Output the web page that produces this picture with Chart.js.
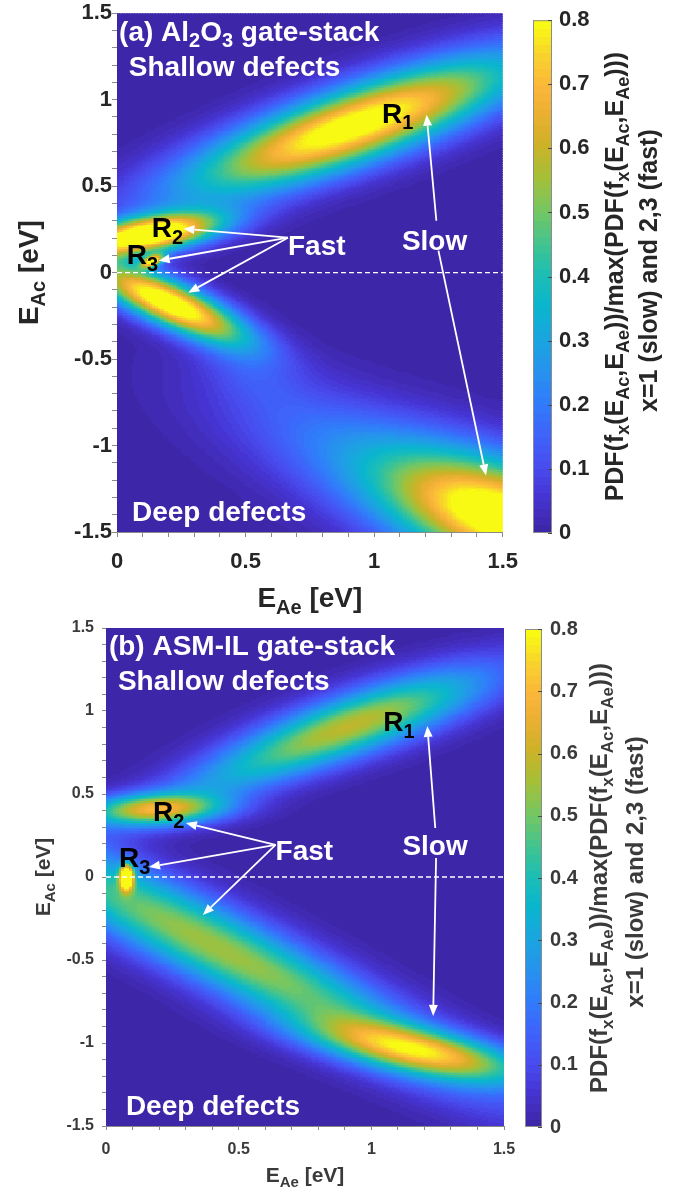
<!DOCTYPE html>
<html>
<head>
<meta charset="utf-8">
<script src="https://cdn.jsdelivr.net/npm/chart.js@4.4.1/dist/chart.umd.min.js"></script>
<style>
  body { margin: 0; background: #fff; width: 683px; height: 1190px; position: relative; overflow: hidden; }
  canvas { position: absolute; }
</style>
</head>
<body>
<canvas id="mapA" style="left:0;top:0" width="530" height="625"></canvas>
<canvas id="barA" style="left:520px;top:0" width="163" height="560"></canvas>
<canvas id="mapB" style="left:0;top:600px" width="530" height="590"></canvas>
<canvas id="barB" style="left:512px;top:600px" width="171" height="560"></canvas>
<script>
// axis tick labels (eV) and colour limits
const eAeLabels = [0, 0.5, 1, 1.5];
const eAcLabels = [-1.5, -1, -0.5, 0, 0.5, 1, 1.5];
const climMax = 0.8;

// (a) Al2O3 stack: lobes of the normalised PDF, centre in (E_Ae, E_Ac), widths in eV, tilt in degrees
const aLobeAe    = [0.92, 0.12, 0.14, 0.20, 1.52, 0.95, 0.50];
const aLobeAc    = [0.85, 0.22, 0.07, -0.17, -1.42, -1.05, -0.55];
const aLobeLong  = [0.50, 0.20, 0.035, 0.25, 0.36, 0.45, 0.18];
const aLobeCross = [0.14, 0.07, 0.02, 0.08, 0.20, 0.20, 0.10];
const aLobeTilt  = [29, 15, 40, -36, -32, -35, -50];
const aLobePeak  = [0.86, 0.95, 0.7, 0.90, 0.86, 0.18, 0.08];

// (b) ASM-IL stack
const bLobeAe    = [0.98, 0.50, 0.19, 0.08, 0.42, 1.20];
const bLobeAc    = [0.95, 0.62, 0.41, 0.00, -0.42, -1.05];
const bLobeLong  = [0.38, 0.40, 0.18, 0.05, 0.80, 0.30];
const bLobeCross = [0.12, 0.10, 0.065, 0.017, 0.14, 0.09];
const bLobeTilt  = [30, 33, 3, 90, -40, -18];
const bLobePeak  = [0.52, 0.18, 0.57, 1.0, 0.55, 0.55];

// white labels inside the maps
const aNoteText = ['(a) Al_{2}O_{3} gate-stack', 'Shallow defects', 'Deep defects', 'Fast', 'Slow'];
const aNoteAe   = [0.008, 0.046, 0.058, 0.665, 1.108];
const aNoteAc   = [1.341, 1.139, -1.434, 0.104, 0.133];
const bNoteText = ['(b) ASM-IL gate-stack', 'Shallow defects', 'Deep defects', 'Fast', 'Slow'];
const bNoteAe   = [0.011, 0.045, 0.075, 0.639, 1.117];
const bNoteAc   = [1.337, 1.127, -1.434, 0.102, 0.133];

// region names
const regionText = ['R_{1}', 'R_{2}', 'R_{3}'];
const aRegionAe = [1.031, 0.135, 0.038];
const aRegionAc = [0.867, 0.205, 0.05];
const bRegionAe = [1.045, 0.177, 0.049];
const bRegionAc = [0.88, 0.337, 0.06];

// arrows: start and tip in (E_Ae, E_Ac)
const aArrowFromAe = [0.665, 0.665, 0.665, 1.242, 1.25];
const aArrowFromAc = [0.202, 0.202, 0.202, 0.30, 0.127];
const aArrowToAe   = [0.258, 0.162, 0.277, 1.204, 1.435];
const aArrowToAc   = [0.254, 0.069, -0.116, 0.913, -1.173];
const bArrowFromAe = [0.639, 0.639, 0.639, 1.241, 1.244];
const bArrowFromAc = [0.193, 0.193, 0.193, 0.295, 0.114];
const bArrowToAe   = [0.301, 0.162, 0.365, 1.211, 1.233];
const bArrowToAc   = [0.325, 0.06, -0.229, 0.91, -0.837];

const FONT = '"Liberation Sans", Arial, sans-serif';
Chart.defaults.font.family = FONT;

// parula-like colormap stops (t, r, g, b)
const parulaStops = [
  [0.000, 62, 38, 168], [0.063, 70, 52, 210], [0.127, 72, 77, 240], [0.190, 62, 100, 250],
  [0.254, 48, 125, 250], [0.317, 38, 147, 237], [0.381, 25, 166, 222], [0.444, 10, 182, 205],
  [0.508, 30, 190, 178], [0.571, 70, 196, 140], [0.635, 120, 198, 95], [0.698, 165, 192, 55],
  [0.762, 205, 178, 40], [0.825, 235, 175, 50], [0.875, 250, 182, 58], [0.938, 248, 210, 45],
  [1.000, 249, 250, 20]
];
const LEVELS = [];
for (let k = 0; k < 64; k++) {
  const t = k / 63;
  let s = 0;
  while (s < parulaStops.length - 2 && parulaStops[s + 1][0] < t) s++;
  const a = parulaStops[s], b = parulaStops[s + 1];
  const f = Math.min(1, Math.max(0, (t - a[0]) / (b[0] - a[0])));
  const c = [1, 2, 3].map(i => Math.round(a[i] + (b[i] - a[i]) * f));
  LEVELS.push(`rgb(${c[0]},${c[1]},${c[2]})`);
}
function colorFor(v) {
  const k = Math.max(0, Math.min(63, Math.floor(v / climMax * 64)));
  return LEVELS[k];
}

function lobeValue(L, ae, ac) {
  let v = 0;
  for (let k = 0; k < L.peak.length; k++) {
    const t = L.tilt[k] * Math.PI / 180;
    const dx = ae - L.ae[k], dy = ac - L.ac[k];
    const u = dx * Math.cos(t) + dy * Math.sin(t);
    const w = -dx * Math.sin(t) + dy * Math.cos(t);
    v += L.peak[k] * Math.exp(-0.5 * (u * u / (L.long[k] * L.long[k]) + w * w / (L.cross[k] * L.cross[k])));
  }
  return v;
}

// text with _{...} subscripts
function richParts(str) {
  const parts = [], re = /_\{([^}]*)\}/g;
  let last = 0, m;
  while ((m = re.exec(str))) {
    if (m.index > last) parts.push({ t: str.slice(last, m.index) });
    parts.push({ t: m[1], sub: true });
    last = re.lastIndex;
  }
  if (last < str.length) parts.push({ t: str.slice(last) });
  return parts;
}
function drawRich(ctx, str, x, y, size, align) {
  const parts = richParts(str);
  const fontOf = p => `bold ${p.sub ? Math.round(size * 0.7) : size}px ${FONT}`;
  let total = 0;
  parts.forEach(p => { ctx.font = fontOf(p); p.w = ctx.measureText(p.t).width; total += p.w; });
  let cx = align === 'center' ? x - total / 2 : x;
  ctx.textAlign = 'left';
  ctx.textBaseline = 'alphabetic';
  parts.forEach(p => {
    ctx.font = fontOf(p);
    ctx.fillText(p.t, cx, y + (p.sub ? size * 0.24 : 0));
    cx += p.w;
  });
}
function drawRotated(ctx, str, x, y, size) {
  ctx.save();
  ctx.translate(x, y);
  ctx.rotate(-Math.PI / 2);
  drawRich(ctx, str, 0, 0, size, 'center');
  ctx.restore();
}

function arrow(ctx, x0, y0, x1, y1) {
  const ang = Math.atan2(y1 - y0, x1 - x0), head = 11, half = 4.5;
  const bx = x1 - head * Math.cos(ang), by = y1 - head * Math.sin(ang);
  ctx.beginPath();
  ctx.moveTo(x0, y0);
  ctx.lineTo(bx, by);
  ctx.stroke();
  ctx.beginPath();
  ctx.moveTo(x1, y1);
  ctx.lineTo(bx + half * Math.sin(ang), by - half * Math.cos(ang));
  ctx.lineTo(bx - half * Math.sin(ang), by + half * Math.cos(ang));
  ctx.closePath();
  ctx.fill();
}

const CELL = 0.01;
function heatmapPlugin(L) {
  return {
    id: 'heat',
    beforeDatasetsDraw(chart) {
      const { ctx, chartArea: a, scales: { x, y } } = chart;
      ctx.save();
      ctx.beginPath();
      ctx.rect(a.left, a.top, a.width, a.height);
      ctx.clip();
      const nAe = Math.round(1.5 / CELL), nAc = Math.round(3 / CELL);
      for (let i = 0; i < nAe; i++) {
        const ae0 = i * CELL;
        const px0 = Math.floor(x.getPixelForValue(ae0));
        const px1 = Math.ceil(x.getPixelForValue(ae0 + CELL));
        for (let j = 0; j < nAc; j++) {
          const ac0 = -1.5 + j * CELL;
          const py0 = Math.floor(y.getPixelForValue(ac0 + CELL));
          const py1 = Math.ceil(y.getPixelForValue(ac0));
          ctx.fillStyle = colorFor(lobeValue(L, ae0 + CELL / 2, ac0 + CELL / 2));
          ctx.fillRect(px0, py0, px1 - px0, py1 - py0);
        }
      }
      ctx.restore();
    }
  };
}

function notesPlugin(n, look) {
  return {
    id: 'notes',
    afterDatasetsDraw(chart) {
      const { ctx, scales: { x, y } } = chart;
      ctx.save();
      // zero line
      ctx.strokeStyle = '#ffffff';
      ctx.lineWidth = 1.3;
      ctx.setLineDash([5, 3]);
      ctx.beginPath();
      ctx.moveTo(x.getPixelForValue(0), y.getPixelForValue(0));
      ctx.lineTo(x.getPixelForValue(1.5), y.getPixelForValue(0));
      ctx.stroke();
      ctx.setLineDash([]);
      // arrows
      ctx.fillStyle = '#ffffff';
      ctx.lineWidth = 1.8;
      for (let k = 0; k < n.fromAe.length; k++) {
        arrow(ctx, x.getPixelForValue(n.fromAe[k]), y.getPixelForValue(n.fromAc[k]),
          x.getPixelForValue(n.toAe[k]), y.getPixelForValue(n.toAc[k]));
      }
      // white labels
      n.text.forEach((t, k) => drawRich(ctx, t, x.getPixelForValue(n.ae[k]), y.getPixelForValue(n.ac[k]), look.noteSize, 'left'));
      // region names
      ctx.fillStyle = '#000000';
      regionText.forEach((t, k) => drawRich(ctx, t, x.getPixelForValue(n.rAe[k]), y.getPixelForValue(n.rAc[k]), look.noteSize, 'left'));
      ctx.restore();
    },
    afterDraw(chart) {
      const { ctx, chartArea: a } = chart;
      ctx.save();
      ctx.fillStyle = look.tickColor;
      drawRotated(ctx, 'E_{Ac} [eV]', look.yTitleX, (a.top + a.bottom) / 2, look.titleSize);
      drawRich(ctx, 'E_{Ae} [eV]', (a.left + a.right) / 2, look.xTitleY, look.titleSize, 'center');
      ctx.restore();
    }
  };
}

const near = (list, v) => list.some(m => Math.abs(m - v) < 1e-6);
const fmt = v => String(Math.round(v * 10) / 10);

function mapChart(id, L, n, look) {
  const tickFont = { size: look.tickSize, weight: 'bold', family: FONT };
  return new Chart(document.getElementById(id), {
    type: 'scatter',
    data: { datasets: [{ data: [] }] },
    options: {
      responsive: false,
      animation: false,
      devicePixelRatio: 1,
      events: [],
      layout: { padding: look.padding },
      plugins: { legend: { display: false }, tooltip: { enabled: false } },
      scales: {
        x: {
          type: 'linear', min: 0, max: 1.5,
          ticks: { stepSize: 0.1, autoSkip: false, maxRotation: 0, minRotation: 0, padding: look.xPad,
            color: look.tickColor, font: tickFont, callback: v => near(eAeLabels, v) ? fmt(v) : '' },
          grid: { drawOnChartArea: false, tickLength: look.tick, color: '#8a8a8a' },
          border: { color: '#8a8a8a' },
          afterFit: s => { s.height = look.xHeight; }
        },
        y: {
          type: 'linear', min: -1.5, max: 1.5,
          ticks: { stepSize: 0.1, autoSkip: false, padding: look.yPad,
            color: look.tickColor, font: tickFont, callback: v => near(eAcLabels, v) ? fmt(v) : '' },
          grid: { drawOnChartArea: false, tickLength: look.tick, color: '#8a8a8a' },
          border: { color: '#8a8a8a' },
          afterFit: s => { s.width = look.yWidth; }
        }
      }
    },
    plugins: [heatmapPlugin(L), notesPlugin(n, look)]
  });
}

function colorbarChart(id, look) {
  return new Chart(document.getElementById(id), {
    type: 'scatter',
    data: { datasets: [{ data: [] }] },
    options: {
      responsive: false,
      animation: false,
      devicePixelRatio: 1,
      events: [],
      layout: { padding: look.padding },
      plugins: { legend: { display: false }, tooltip: { enabled: false } },
      scales: {
        x: { display: false, min: 0, max: 1 },
        y: {
          position: 'right', min: 0, max: climMax,
          ticks: { stepSize: 0.1, padding: look.labelPad, color: look.tickColor,
            font: { size: look.labelSize, weight: 'bold', family: FONT }, callback: v => fmt(v) },
          grid: { display: false, drawTicks: false },
          border: { display: false },
          afterFit: s => { s.width = look.yWidth; }
        }
      }
    },
    plugins: [{
      id: 'cbar',
      beforeDatasetsDraw(chart) {
        const { ctx, chartArea: a, scales: { y } } = chart;
        ctx.save();
        for (let k = 0; k < 64; k++) {
          const top = Math.floor(y.getPixelForValue((k + 1) / 64 * climMax));
          const bot = Math.ceil(y.getPixelForValue(k / 64 * climMax));
          ctx.fillStyle = LEVELS[k];
          ctx.fillRect(a.left, top, a.width, bot - top);
        }
        ctx.strokeStyle = '#8c8c8c';
        ctx.lineWidth = 1;
        ctx.strokeRect(a.left + 0.5, a.top + 0.5, a.width - 1, a.height - 1);
        ctx.strokeStyle = '#4a4a4a';
        y.ticks.forEach(t => {
          const py = Math.round(y.getPixelForValue(t.value)) + 0.5;
          ctx.beginPath();
          ctx.moveTo(a.right - 4, py);
          ctx.lineTo(a.right, py);
          ctx.stroke();
        });
        ctx.restore();
      },
      afterDraw(chart) {
        const { ctx, chartArea: a } = chart;
        const mid = (a.top + a.bottom) / 2;
        ctx.save();
        ctx.fillStyle = look.tickColor;
        drawRotated(ctx, 'PDF(f_{x}(E_{Ac},E_{Ae}))/max(PDF(f_{x}(E_{Ac},E_{Ae})))', look.title1X, mid, look.titleSize);
        drawRotated(ctx, 'x=1 (slow) and 2,3 (fast)', look.title2X, mid - 6, look.titleSize);
        ctx.restore();
      }
    }]
  });
}

mapChart('mapA',
  { ae: aLobeAe, ac: aLobeAc, long: aLobeLong, cross: aLobeCross, tilt: aLobeTilt, peak: aLobePeak },
  { text: aNoteText, ae: aNoteAe, ac: aNoteAc, rAe: aRegionAe, rAc: aRegionAc,
    fromAe: aArrowFromAe, fromAc: aArrowFromAc, toAe: aArrowToAe, toAc: aArrowToAc },
  { padding: { left: 0, top: 13, right: 23, bottom: 0 }, yWidth: 117, xHeight: 93, tick: 5,
    xPad: 12, yPad: 0, tickSize: 22, tickColor: '#262626', titleSize: 28, yTitleX: 38, xTitleY: 607, noteSize: 28 });

mapChart('mapB',
  { ae: bLobeAe, ac: bLobeAc, long: bLobeLong, cross: bLobeCross, tilt: bLobeTilt, peak: bLobePeak },
  { text: bNoteText, ae: bNoteAe, ac: bNoteAc, rAe: bRegionAe, rAc: bRegionAc,
    fromAe: bArrowFromAe, fromAc: bArrowFromAc, toAe: bArrowToAe, toAc: bArrowToAc },
  { padding: { left: 0, top: 28, right: 26, bottom: 0 }, yWidth: 106, xHeight: 64, tick: 4,
    xPad: 10, yPad: 8, tickSize: 16, tickColor: '#3a3a3a', titleSize: 21, yTitleX: 50, xTitleY: 582, noteSize: 28 });

colorbarChart('barA', { padding: { left: 13, top: 13, right: 0, bottom: 27 }, yWidth: 131, labelPad: 7,
  labelSize: 22, tickColor: '#262626', titleSize: 25, title1X: 103, title2X: 137 });

colorbarChart('barB', { padding: { left: 13, top: 29, right: 0, bottom: 33 }, yWidth: 141, labelPad: 8,
  labelSize: 20, tickColor: '#3a3a3a', titleSize: 24, title1X: 95, title2X: 131 });
</script>
</body>
</html>
